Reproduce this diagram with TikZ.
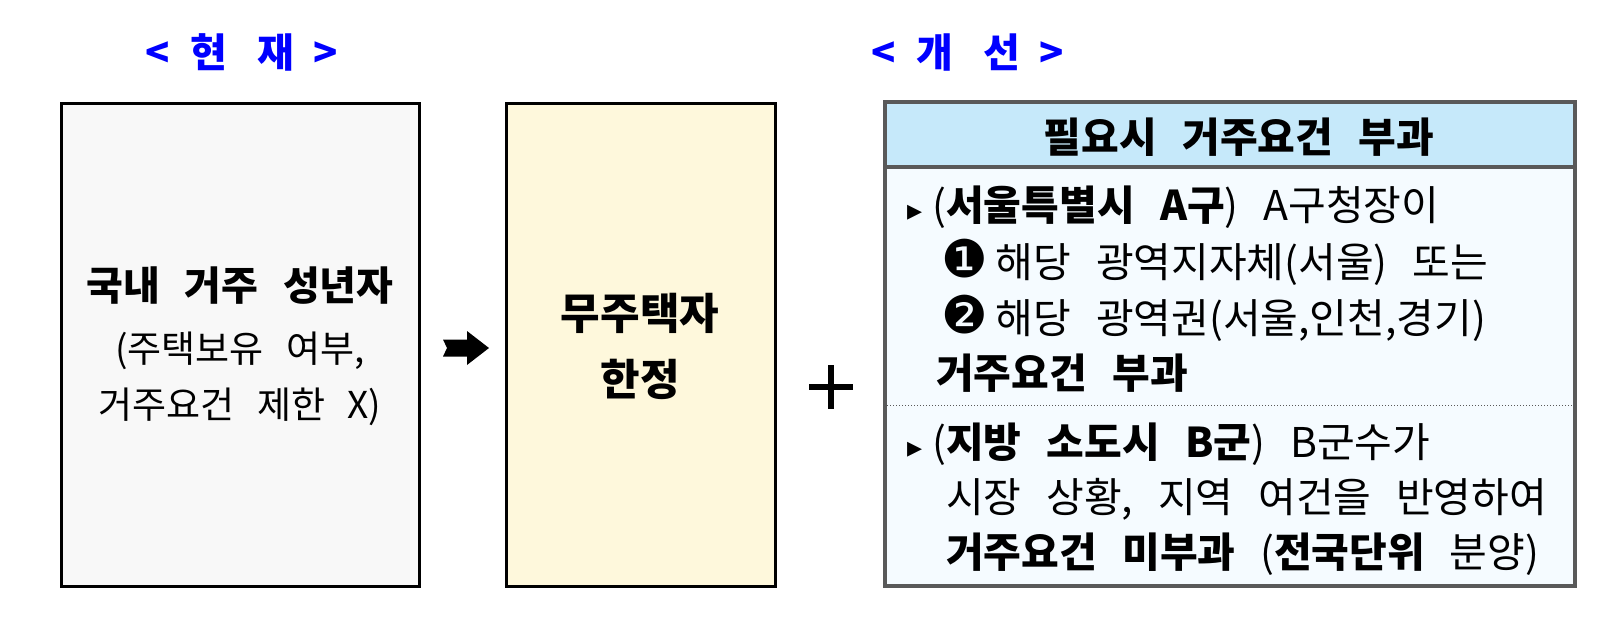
\documentclass[tikz,border=0pt]{standalone}
\usepackage{fontspec}
\setmainfont[WordSpace=2.7]{Noto Sans CJK KR}
\newfontfamily\symfont{DejaVu Sans}
\definecolor{hdrblue}{RGB}{0,0,255}
\definecolor{leftfill}{RGB}{248,248,248}
\definecolor{midfill}{RGB}{254,248,220}
\definecolor{titlefill}{RGB}{198,233,250}
\definecolor{bodyfill}{RGB}{245,251,255}
\definecolor{framegray}{RGB}{89,89,89}
\tikzset{
  panel/.style={draw=black, line width=3pt, inner sep=0pt},
  hdr/.style={text=hdrblue, font=\fontsize{40}{44}\selectfont\bfseries, anchor=base, inner sep=0pt},
  ctext/.style={anchor=base, inner sep=0pt, font=\fontsize{37}{40}\selectfont},
  ctextb/.style={anchor=base, inner sep=0pt, font=\fontsize{40}{44}\selectfont\bfseries},
  rline/.style={anchor=base west, inner sep=0pt, font=\fontsize{41}{44}\selectfont},
}
\newcommand{\bul}{{\symfont\fontsize{30}{30}\selectfont ▸}\hspace{10pt}}
\newcommand{\numsym}[1]{{\symfont\fontsize{52}{52}\selectfont #1}}
\begin{document}
\begin{tikzpicture}[x=1pt,y=-1pt]
\useasboundingbox (0,0) rectangle (1604,616);
% headers
\node[hdr] (hcur) at (242,67) {<\hspace{20pt}현\hspace{30pt}재\hspace{20pt}>};
\node[hdr] (hnew) at (968,67) {<\hspace{20pt}개\hspace{30pt}선\hspace{20pt}>};
% left panel
\node[panel, fill=leftfill, minimum width=358pt, minimum height=483pt] (cur) at (240,344.5) {};
\node[ctextb] (c1) at (240,300.5) {국내 거주 성년자};
\node[ctext] (c2) at (240,362) {(주택보유 여부,};
\node[ctext] (c3) at (240,418) {거주요건 제한 X)};
% middle panel
\node[panel, fill=midfill, minimum width=269pt, minimum height=483pt] (mid) at (640.5,344.5) {};
\node[ctextb, font=\fontsize{43}{46}\selectfont\bfseries] (m1) at (640,329) {무주택자};
\node[ctextb, font=\fontsize{43}{46}\selectfont\bfseries] (m2) at (640,395) {한정};
% block arrow
\fill (443,339.5) -- (467,339.5) -- (467,331) -- (489,348) -- (467,365) -- (467,356.5) -- (443,356.5) -- (447,348) -- cycle;
% plus
\draw[line width=6pt] (809,387) -- (853,387) (831,365) -- (831,409);
% right panel
\node[draw=framegray, line width=4pt, fill=bodyfill, minimum width=690pt, minimum height=484pt, inner sep=0pt] (imp) at (1230,344) {};
\node[draw=framegray, line width=4pt, fill=titlefill, minimum width=690pt, minimum height=65pt, inner sep=0pt, anchor=north] (title) at (imp.north) {};
\node[anchor=base, inner sep=0pt, font=\fontsize{41}{44}\selectfont\bfseries] (tt) at (1239,152) {필요시 거주요건 부과};
\coordinate (dl) at (887,405);
\coordinate (dr) at (1573,405);
\draw[framegray, line width=1pt, dotted] (dl) -- (dr);
% right panel text
\node[rline] (r1) at (907,220) {\bul(\textbf{서울특별시 A구}) A구청장이};
\node[rline] (r2) at (941,277) {\numsym{❶}\hspace{8pt}해당 광역지자체(서울) 또는};
\node[rline] (r3) at (941,333) {\numsym{❷}\hspace{8pt}해당 광역권(서울,인천,경기)};
\node[rline, font=\fontsize{41}{44}\selectfont\bfseries] (r4) at (936,388) {거주요건 부과};
\node[rline] (r5) at (907,457) {\bul(\textbf{지방 소도시 B군}) B군수가};
\node[rline] (r6) at (946,512) {시장 상황, 지역 여건을 반영하여};
\node[rline] (r7) at (946,567) {\textbf{거주요건 미부과} (\textbf{전국단위} 분양)};
\end{tikzpicture}
\end{document}
